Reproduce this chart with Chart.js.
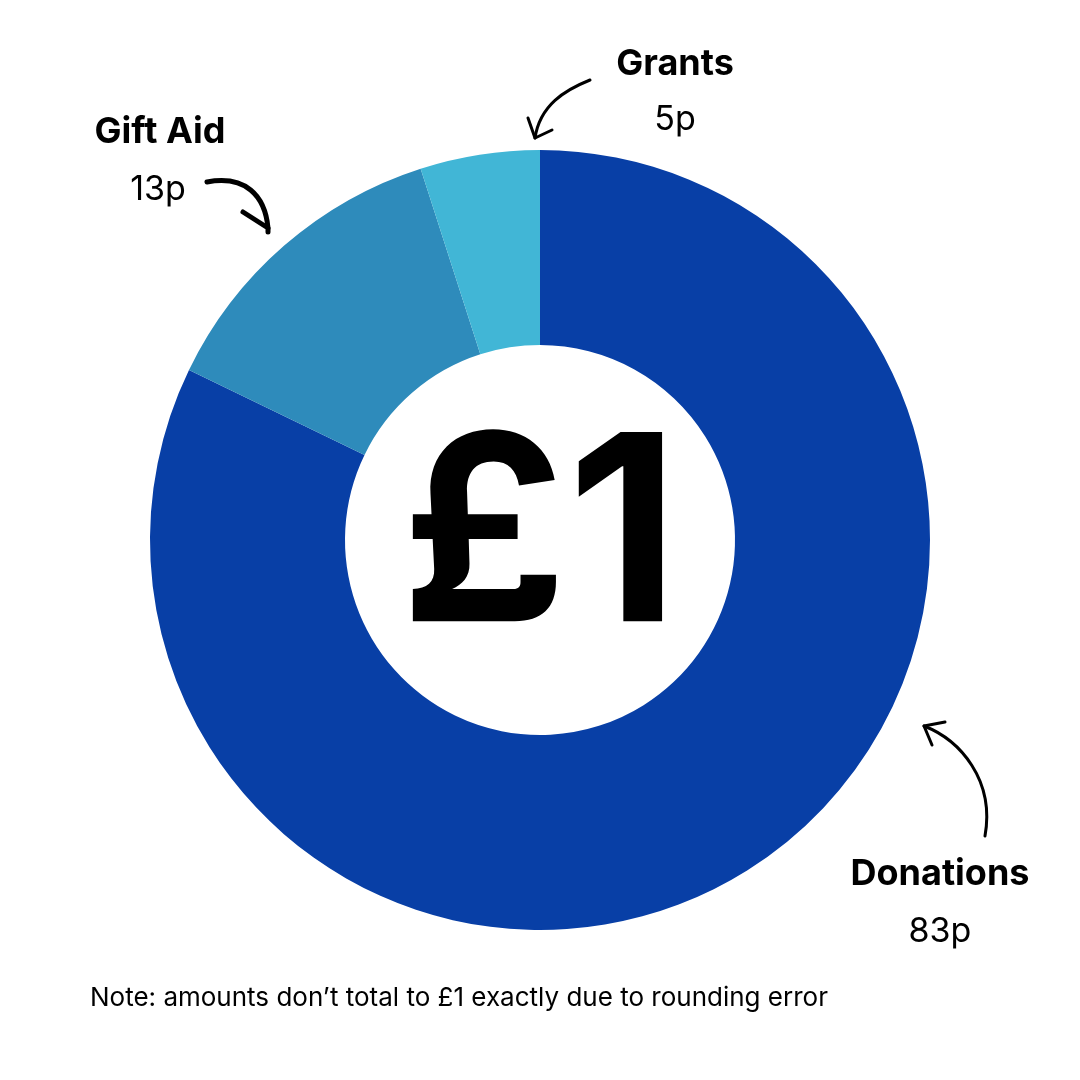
<!DOCTYPE html>
<html><head><meta charset="utf-8">
<script src="https://cdn.jsdelivr.net/npm/chart.js@4"></script>
<style>html,body{margin:0;background:#fff}#w{width:1080px;height:1080px;position:relative}</style>
</head><body><div id="w"><canvas id="c" width="1080" height="1080"></canvas></div>
<script>
const categories=["Donations","Gift Aid","Grants"];
const values=[83,13,5];
const valueLabels=["83p","13p","5p"];
const colors=["#083fa6","#2e8bbb","#41b6d6"];
const F="Inter, 'Noto Sans', sans-serif";
const deco={id:'deco',afterDraw(ch){
 const x=ch.ctx;x.save();x.fillStyle='#000';x.textAlign='center';x.textBaseline='middle';
 const m=ch.getDatasetMeta(0).data[0];const cx=m.x,cy=m.y;
 x.font="bold 260px "+F;x.fillText("£1",cx,cy+3);
 x.font="bold 36px "+F;
 x.fillText(categories[2],675,64);x.fillText(categories[1],160,132);x.fillText(categories[0],940,874);
 x.font="34px "+F;
 x.fillText(valueLabels[2],675,120);x.fillText(valueLabels[1],158,190);x.fillText(valueLabels[0],940,932);
 x.font="26px "+F;x.textAlign='left';
 x.fillText("Note: amounts don’t total to £1 exactly due to rounding error",90,998);
 x.strokeStyle='#000';x.lineCap='round';x.lineJoin='round';
 function arrow(pts,head,w){x.lineWidth=w;x.beginPath();x.moveTo(pts[0],pts[1]);x.bezierCurveTo(pts[2],pts[3],pts[4],pts[5],pts[6],pts[7]);x.stroke();
  x.beginPath();x.moveTo(head[0],head[1]);x.lineTo(pts[6],pts[7]);x.lineTo(head[2],head[3]);x.stroke();}
 arrow([590,80,565,90,540,105,535,138],[528,118,552,130],3);
 arrow([207,182,245,175,265,195,268,228],[243,212,268,232],5);
 arrow([985,836,995,780,960,740,924,726],[932,745,945,722],3);
 x.restore();}};
new Chart(document.getElementById('c'),{type:'doughnut',
 data:{labels:categories,datasets:[{data:values,backgroundColor:colors,borderWidth:0}]},
 options:{responsive:false,animation:false,cutout:'50%',layout:{padding:150},
  plugins:{legend:{display:false},tooltip:{enabled:false}}},plugins:[deco]});
</script></body></html>
